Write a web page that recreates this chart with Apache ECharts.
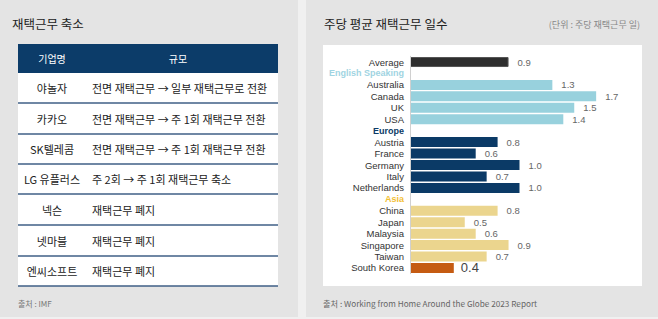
<!DOCTYPE html>
<html>
<head>
<meta charset="utf-8">
<script src="https://cdn.jsdelivr.net/npm/echarts@6/dist/echarts.min.js"></script>
<style>
html,body{margin:0;padding:0;background:#f0f0f0;}
#c{width:658px;height:319px;}
</style>
</head>
<body>
<div id="c"></div>
<script>
// ---- data ----
const leftTitle = '재택근무 축소';
const tableHeaders = ['기업명', '규모'];
const companies = ['야놀자', '카카오', 'SK텔레콤', 'LG 유플러스', '넥슨', '넷마블', '엔씨소프트'];
const changes = [
  '전면 재택근무 → 일부 재택근무로 전환',
  '전면 재택근무 → 주 1회 재택근무 전환',
  '전면 재택근무 → 주 1회 재택근무 전환',
  '주 2회 → 주 1회 재택근무 축소',
  '재택근무 폐지',
  '재택근무 폐지',
  '재택근무 폐지'
];
const leftSource = '출처 : IMF';

const rightTitle = '주당 평균 재택근무 일수';
const unitText = '(단위 : 주당 재택근무 일)';
const rightSource = '출처 : Working from Home Around the Globe 2023 Report';

const categories = ['Average', 'English Speaking', 'Australia', 'Canada', 'UK', 'USA',
  'Europe', 'Austria', 'France', 'Germany', 'Italy', 'Netherlands',
  'Asia', 'China', 'Japan', 'Malaysia', 'Singapore', 'Taiwan', 'South Korea'];
const values = [0.9, null, 1.3, 1.7, 1.5, 1.4,
  null, 0.8, 0.6, 1.0, 0.7, 1.0,
  null, 0.8, 0.5, 0.6, 0.9, 0.7, 0.4];
const groups = ['avg', 'hEng', 'eng', 'eng', 'eng', 'eng',
  'hEur', 'eur', 'eur', 'eur', 'eur', 'eur',
  'hAsia', 'asia', 'asia', 'asia', 'asia', 'asia', 'kor'];

// ---- styles ----
const FONT = '"Noto Sans CJK KR", "Noto Sans", sans-serif';
const LFONT = '"Liberation Sans", Arial, sans-serif';
const barColors = { avg: '#2e2e2e', eng: '#98d1dd', eur: '#0b3a66', asia: '#ebd58e', kor: '#c55b12' };
const headerColors = { hEng: '#9fd4e2', hEur: '#0b3a66', hAsia: '#f2c035' };

const chart = echarts.init(document.getElementById('c'), null, { renderer: 'svg', width: 658, height: 319 });

const g = [];
g.push({ type: 'rect', shape: { x: 0, y: 0, width: 298, height: 317 }, style: { fill: '#e4e4e4' }, z: -10 });
g.push({ type: 'rect', shape: { x: 306, y: 0, width: 352, height: 317 }, style: { fill: '#e4e4e4' }, z: -10 });
g.push({ type: 'rect', shape: { x: 323, y: 45, width: 319, height: 241 }, style: { fill: '#ffffff' }, z: -9 });

g.push({ type: 'text', x: 12, y: 23, style: { text: leftTitle, font: '12.5px ' + FONT, fill: '#222', verticalAlign: 'middle' } });
g.push({ type: 'text', x: 18, y: 303, style: { text: leftSource, font: '8px ' + FONT, fill: '#777', verticalAlign: 'middle' } });
g.push({ type: 'text', x: 324, y: 23, style: { text: rightTitle, font: '12.5px ' + FONT, fill: '#222', verticalAlign: 'middle' } });
g.push({ type: 'text', x: 640, y: 24, style: { text: unitText, font: '9px ' + FONT, fill: '#888', verticalAlign: 'middle', align: 'right' } });
g.push({ type: 'text', x: 323, y: 303, style: { text: rightSource, font: '8.2px ' + FONT, fill: '#666', verticalAlign: 'middle' } });

const tx = 18, tw = 260, hy = 44, hh = 29;
const rowBounds = [73, 103, 134, 164, 194, 225, 256, 286];
g.push({ type: 'rect', shape: { x: tx, y: hy, width: tw, height: hh }, style: { fill: '#0c3c69' }, z: -8 });
g.push({ type: 'rect', shape: { x: tx, y: rowBounds[0], width: tw, height: rowBounds[rowBounds.length - 1] - rowBounds[0] }, style: { fill: '#ffffff' }, z: -8 });
g.push({ type: 'text', x: 52, y: hy + hh / 2, style: { text: tableHeaders[0], font: '10px ' + FONT, fill: '#ffffff', align: 'center', verticalAlign: 'middle' } });
g.push({ type: 'text', x: 178, y: hy + hh / 2, style: { text: tableHeaders[1], font: '10px ' + FONT, fill: '#ffffff', align: 'center', verticalAlign: 'middle' } });
companies.forEach((c, i) => {
  const cy = (rowBounds[i] + rowBounds[i + 1]) / 2;
  g.push({ type: 'text', x: 52, y: cy, style: { text: c, font: '11px ' + FONT, fill: '#222', align: 'center', verticalAlign: 'middle' } });
  g.push({ type: 'text', x: 92, y: cy, style: { text: changes[i], font: '11px ' + FONT, fill: '#222', align: 'left', verticalAlign: 'middle' } });
  g.push({ type: 'line', shape: { x1: tx, y1: rowBounds[i + 1], x2: tx + tw, y2: rowBounds[i + 1] }, style: { stroke: '#3f5f86', lineWidth: 1.3 } });
});

const barData = values.map((v, i) => {
  if (v === null) return { value: null };
  const grp = groups[i];
  const item = { value: v, itemStyle: { color: barColors[grp], borderColor: grp === 'avg' ? '#555' : 'rgba(0,0,0,0)', borderWidth: grp === 'avg' ? 1 : 0 } };
  if (grp === 'kor') item.label = { fontSize: 13, color: '#444', distance: 7, lineHeight: 13 };
  return item;
});

const richHeaders = {};
Object.keys(headerColors).forEach(k => {
  richHeaders[k] = { color: headerColors[k], fontWeight: 'bold', fontSize: 9, lineHeight: 10, fontFamily: LFONT };
});

chart.setOption({
  animation: false,
  textStyle: { fontFamily: FONT },
  graphic: { elements: g, z: -20, zlevel: 0 },
  grid: { left: 410, right: 29, top: 56.3, bottom: 45.3, containLabel: false },
  xAxis: { type: 'value', min: 0, max: 2, show: false, splitLine: { show: false } },
  yAxis: {
    type: 'category', data: categories, inverse: true, z: 10,
    axisLine: { show: true, lineStyle: { color: '#d0d0d0', width: 1 } },
    axisTick: { show: false },
    axisLabel: {
      interval: 0, margin: 6, fontSize: 9.5, lineHeight: 10, color: '#333', fontFamily: LFONT,
      formatter: (val, idx) => {
        const grp = groups[idx];
        if (headerColors[grp]) return '{' + grp + '|' + val + '}';
        return val;
      },
      rich: richHeaders
    }
  },
  series: [{
    type: 'bar', data: barData, barWidth: 10, z: 5,
    label: {
      show: true, position: 'right', distance: 9, fontSize: 9.5, lineHeight: 10, color: '#666', fontFamily: LFONT,
      formatter: p => (p.value == null ? '' : Number(p.value).toFixed(1))
    }
  }]
});
</script>
</body>
</html>
